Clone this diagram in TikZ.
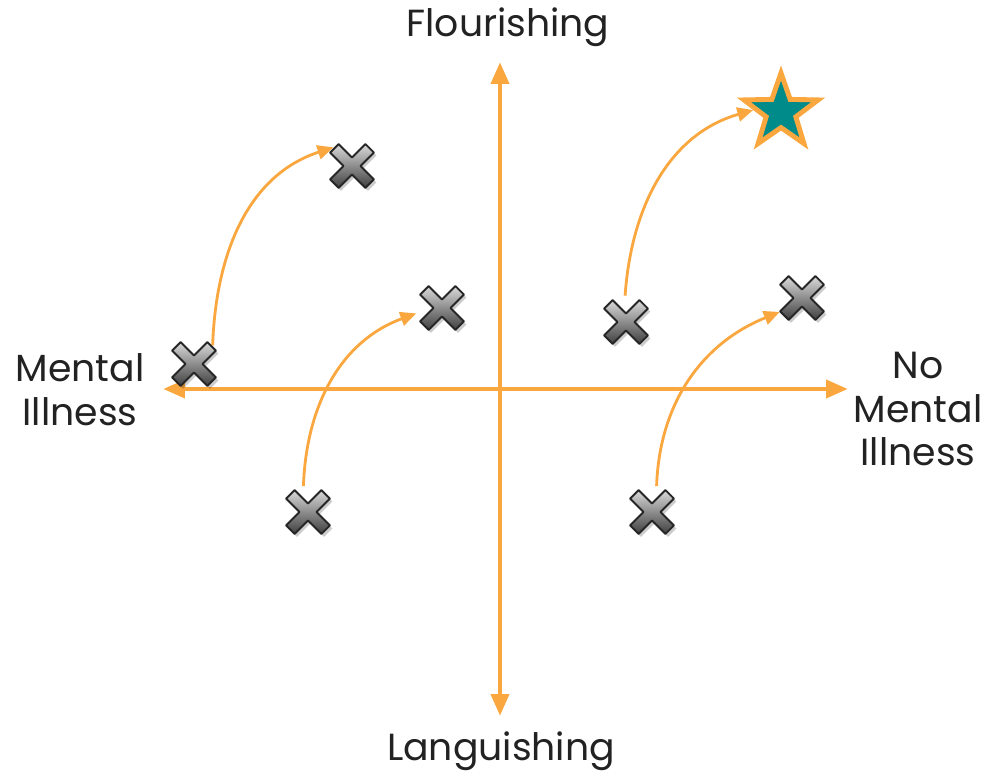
\documentclass[tikz,border=0pt]{standalone}
\usepackage{fontspec}
\setmainfont{Poppins}
\usetikzlibrary{arrows.meta,shapes.geometric}
\definecolor{axisorange}{HTML}{F9A73E}
\definecolor{starteal}{HTML}{008B8B}
\definecolor{labelgray}{HTML}{222222}
\tikzset{
  axis/.style={
    {Triangle[length=12.5pt,width=10pt]}-{Triangle[length=12.5pt,width=10pt]},
    line width=2.8pt,
    draw=axisorange
  },
  move/.style={
    -{Triangle[length=9pt,width=8pt]},
    line width=1.6pt,
    draw=axisorange
  },
  spot/.style={
    circle,
    minimum size=1.04cm,
    inner sep=0pt
  },
  axislabel/.style={
    align=center,
    text=labelgray,
    font=\fontsize{21.5}{25}\selectfont
  },
  xmark/.pic={
    \fill[black, opacity=.2, shift={(2.5,-3)}]
      (-13.44,21.92) -- (0,8.49) -- (13.44,21.92) -- (21.92,13.44) -- (8.49,0)
      -- (21.92,-13.44) -- (13.44,-21.92) -- (0,-8.49) -- (-13.44,-21.92)
      -- (-21.92,-13.44) -- (-8.49,0) -- (-21.92,13.44) -- cycle;
    \draw[draw=black!85, line width=1.1pt, top color=gray!30, bottom color=black!75, line join=round]
      (-13.44,21.92) -- (0,8.49) -- (13.44,21.92) -- (21.92,13.44) -- (8.49,0)
      -- (21.92,-13.44) -- (13.44,-21.92) -- (0,-8.49) -- (-13.44,-21.92)
      -- (-21.92,-13.44) -- (-8.49,0) -- (-21.92,13.44) -- cycle;
  }
}
\begin{document}
\begin{tikzpicture}[x=0.02cm, y=0.02cm]
\useasboundingbox (0,0) rectangle (996,771);
% axes
\node[spot] (top) at (500,709) {};
\node[spot] (bottom) at (500,55) {};
\node[spot] (left) at (163,382) {};
\node[spot] (right) at (848,382) {};
\draw[axis] (bottom.center) -- (top.center);
\draw[axis] (left.center) -- (right.center);
\node[axislabel, anchor=base] (flour) at (508,734) {Flourishing};
\node[axislabel, anchor=base] (lang) at (501,11) {Languishing};
\node[axislabel] (mental) at (80,381) {Mental\\Illness};
\node[axislabel] (nomental) at (918,362) {No\\Mental\\Illness};
% people
\node[spot] (p1) at (352,605) {};
\node[spot] (p2) at (194,407) {};
\node[spot] (p3) at (442,463) {};
\node[spot] (p4) at (308,259) {};
\node[spot] (p5) at (626,449) {};
\node[spot] (p6) at (802,473) {};
\node[spot] (p7) at (652,259) {};
\node[star, star points=5, star point ratio=2.5, minimum size=1.56cm, inner sep=0pt,
  fill=starteal, draw=axisorange, line width=2.8pt] (goal) at (781,659) {};
% moves
\draw[move] (p2.north east) to[out=88, in=198] (p1.north west);
\draw[move] (p4.100) to[out=88, in=200] (p3.192);
\draw[move] (p5.92) to[out=86, in=196] (goal.176);
\draw[move] (p7.80) to[out=88, in=202] (p6.212);
\foreach \p in {p1,p2,p3,p4,p5,p6,p7}
  \pic at (\p) {xmark};
\end{tikzpicture}
\end{document}
